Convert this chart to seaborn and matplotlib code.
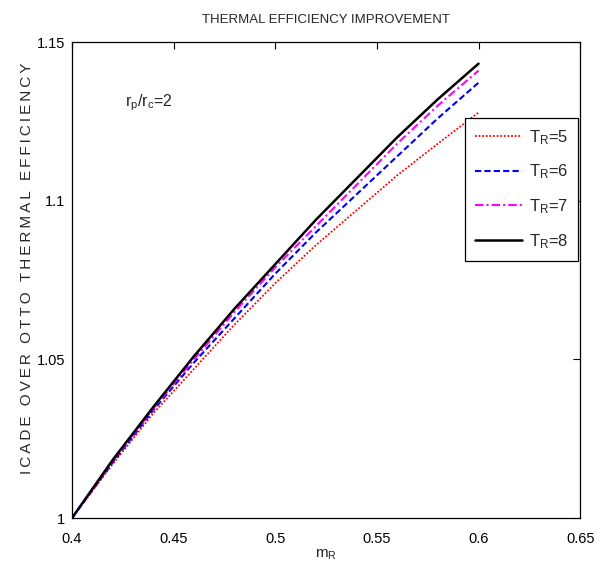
import numpy as np
import pandas as pd
import seaborn as sns
import matplotlib.pyplot as plt

# dados
m_r = [0.40, 0.42, 0.44, 0.46, 0.48, 0.50, 0.52, 0.54, 0.56, 0.58, 0.60]
tr5 = [1.0, 1.0170, 1.0330, 1.0470, 1.0610, 1.0740, 1.0860, 1.0970, 1.1080, 1.1180, 1.1278]
tr6 = [1.0, 1.0175, 1.0340, 1.0490, 1.0630, 1.0770, 1.0900, 1.1020, 1.1140, 1.1260, 1.1372]
tr7 = [1.0, 1.0180, 1.0345, 1.0500, 1.0650, 1.0790, 1.0920, 1.1050, 1.1180, 1.1300, 1.1410]
tr8 = [1.0, 1.0183, 1.0350, 1.0510, 1.0660, 1.0800, 1.0940, 1.1070, 1.1200, 1.1320, 1.1432]

series = [
    ('$\\mathregular{T_R}$=5', tr5, 'red', (0, (1, 1)), 1.3),
    ('$\\mathregular{T_R}$=6', tr6, 'blue', (0, (3, 1.5)), 1.5),
    ('$\\mathregular{T_R}$=7', tr7, 'magenta', (0, (4, 1.5, 1, 1.5)), 1.5),
    ('$\\mathregular{T_R}$=8', tr8, 'black', '-', 1.8),
]

sns.set_style('white')
plt.rcParams['font.family'] = ['Liberation Sans', 'DejaVu Sans']
plt.rcParams['mathtext.fontset'] = 'custom'
plt.rcParams['mathtext.rm'] = 'Liberation Sans'
plt.rcParams['mathtext.it'] = 'Liberation Sans'

fig = plt.figure(figsize=(6.05, 5.7), dpi=100)
ax = fig.add_axes([0.119, 0.0912, 0.840, 0.835])

for label, vals, cor, ls, lw in series:
    sns.lineplot(x=m_r, y=vals, color=cor, linestyle=ls, linewidth=lw, label=label, ax=ax)

ax.set_xlim(0.4, 0.65)
ax.set_ylim(1.0, 1.15)
ax.set_xticks([0.4, 0.45, 0.5, 0.55, 0.6, 0.65])
ax.set_xticklabels(['0.4', '0.45', '0.5', '0.55', '0.6', '0.65'])
ax.set_yticks([1.0, 1.05, 1.1, 1.15])
ax.set_yticklabels(['1', '1.05', '1.1', '1.15'])
ax.tick_params(direction='in', top=True, right=True, length=5, width=0.8,
               labelsize=10.5, colors='black')
ax.tick_params(axis='x', pad=10)
ax.tick_params(axis='y', pad=5)
for s in ax.spines.values():
    s.set_color('black')
    s.set_linewidth(0.9)

ax.set_title('THERMAL EFFICIENCY IMPROVEMENT', fontsize=9.5, pad=14)
ax.set_xlabel('$\\mathregular{m_R}$', fontsize=11, labelpad=1)

# rótulo do eixo y com espaçamento largo entre letras
ylab = '\u2009'.join('ICADE OVER OTTO THERMAL EFFICIENCY')
fig.text(0.045, 0.53, ylab, rotation=90, fontsize=11, ha='center', va='center')
ax.text(0.104, 0.872, '$\\mathregular{r_p/r_c}$=2', transform=ax.transAxes,
        fontsize=11.5, va='center')

leg = ax.legend(loc='upper right', bbox_to_anchor=(0.996, 0.840), borderaxespad=0,
                fontsize=12, frameon=True, fancybox=False, edgecolor='black',
                framealpha=1, handlelength=2.8, labelspacing=0.95, borderpad=0.6,
                handletextpad=0.4)
leg.get_frame().set_linewidth(0.9)

plt.savefig('out.png', dpi=100)
